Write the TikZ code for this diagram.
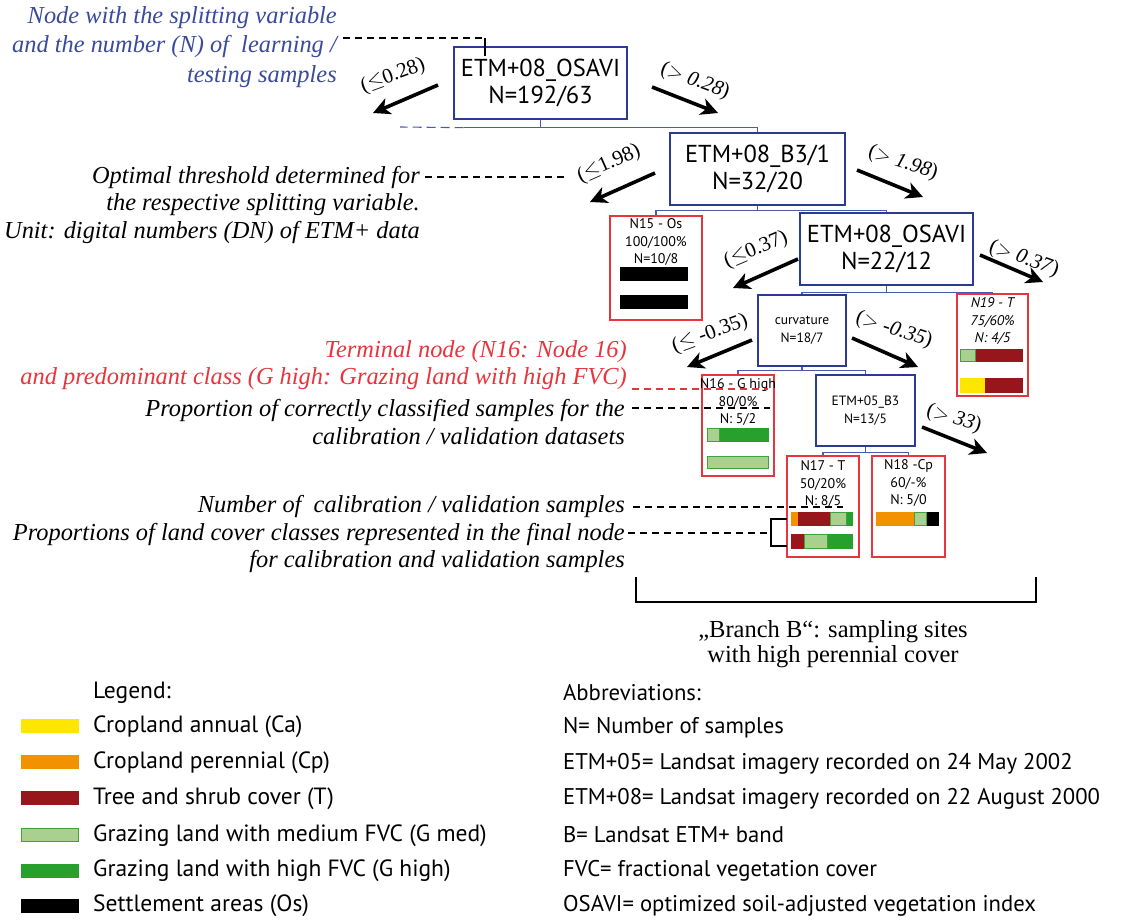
\documentclass[tikz,border=0pt]{standalone}
\usepackage{fontspec}
\setmainfont{Liberation Serif}
\setsansfont{PT Sans}
\usetikzlibrary{arrows.meta}
\definecolor{nodeblue}{HTML}{2B3A92}
\definecolor{lineblue}{HTML}{4A5BAE}
\definecolor{termred}{HTML}{E8343C}
\definecolor{noteblue}{HTML}{3A4A9C}
\definecolor{ca}{HTML}{FFE600}
\definecolor{cp}{HTML}{F39200}
\definecolor{tr}{HTML}{96161C}
\definecolor{gmed}{HTML}{A9D08E}
\definecolor{gmedb}{HTML}{3DA33D}
\definecolor{gh}{HTML}{27A02D}
\begin{document}
\begin{tikzpicture}[x=1pt,y=-1pt,
  split/.style={draw=nodeblue, line width=1.3pt, fill=white, align=center, inner sep=0pt,
    font=\sffamily\fontsize{24.5}{27}\selectfont},
  smallsplit/.style={split, font=\sffamily\fontsize{13.5}{18}\selectfont},
  leaf/.style={draw=termred, line width=1.3pt, inner sep=0pt},
  leaftext/.style={font=\sffamily\fontsize{14}{17.5}\selectfont, align=center, anchor=north, inner sep=0pt},
  tline/.style={draw=lineblue, line width=1.1pt},
  bigarrow/.style={line width=3.6pt, -{Stealth[length=17pt,width=17pt,inset=5pt]}},
  cond/.style={font=\fontsize{21}{21}\selectfont, inner sep=0pt},
  note/.style={font=\itshape\fontsize{24.4}{27}\selectfont, align=right, anchor=east, inner sep=0pt},
  guide/.style={dash pattern=on 7pt off 5pt, line width=1.2pt},
  swatch/.style={minimum width=58pt, minimum height=14pt, inner sep=0pt},
  legtext/.style={font=\sffamily\fontsize{23.5}{23.5}\selectfont, anchor=west, inner sep=0pt},
  abbtext/.style={font=\sffamily\fontsize{22.7}{22.7}\selectfont, anchor=west, inner sep=0pt}
]
\fill[white] (0,0) rectangle (1136,919);
\useasboundingbox (0,0) rectangle (1136,919);

% ---------- splitting nodes ----------
\node[split, minimum width=173pt, minimum height=72pt] (root) at (540.5,83) {ETM+08\_OSAVI\\N=192/63};
\node[split, minimum width=175pt, minimum height=72pt] (n2) at (757.5,169) {ETM+08\_B3/1\\N=32/20};
\node[split, minimum width=173pt, minimum height=72pt] (n3) at (886.5,249) {ETM+08\_OSAVI\\N=22/12};
\node[smallsplit, minimum width=88pt, minimum height=71pt] (curv) at (802,330.5) {curvature\\N=18/7};
\node[smallsplit, minimum width=99pt, minimum height=71pt] (b3) at (865.5,410.5) {ETM+05\_B3\\N=13/5};

% ---------- terminal nodes ----------
\node[leaf, minimum width=92pt, minimum height=104pt] (n15) at (656,268) {};
\node[leaf, minimum width=71pt, minimum height=102pt] (n19) at (992.5,345) {};
\node[leaf, minimum width=72pt, minimum height=101pt] (n16) at (738,425.5) {};
\node[leaf, minimum width=72pt, minimum height=101pt] (n17) at (823,506.5) {};
\node[leaf, minimum width=73pt, minimum height=101pt] (n18) at (908.5,506.5) {};

% node labels: the y axis points down, so a negative yshift moves them down
\node[leaftext] (t15) at ([yshift=-3pt]n15.north) {N15 - Os\\100/100\%\\N=10/8};
\node[leaftext, font=\sffamily\itshape\fontsize{14}{17.5}\selectfont] (t19) at ([yshift=-4pt]n19.north) {N19 - T\\75/60\%\\N: 4/5};
\node[leaftext] (t16) at ([yshift=-4pt]n16.north) {N16 - G high\\80/0\%\\N: 5/2};
\node[leaftext] (t17) at ([yshift=-5pt]n17.north) {N17 - T\\50/20\%\\N: 8/5};
\node[leaftext] (t18) at ([yshift=-4pt]n18.north) {N18 -Cp\\60/-\%\\N: 5/0};

% class proportion bars (calibration above, validation below)
% N15
\fill[black] (620,267) rectangle (688,281);
\fill[black] (620,295) rectangle (688,309);
% N19
\fill[tr] (975,349) rectangle (1023,362);
\filldraw[fill=gmed, draw=gmedb, line width=0.8pt] (960.5,349.5) rectangle (975,361.5);
\fill[ca] (960,378) rectangle (985,393);
\fill[tr] (985,378) rectangle (1023,393);
% N16
\fill[gh] (719,428) rectangle (769,442);
\filldraw[fill=gmed, draw=gmedb, line width=0.8pt] (707.5,428.5) rectangle (719,441.5);
\filldraw[fill=gmed, draw=gmedb, line width=0.8pt] (707.5,456.5) rectangle (768.5,468.5);
% N17
\fill[cp] (791,512) rectangle (798,526);
\fill[tr] (798,512) rectangle (830,526);
\filldraw[fill=gmed, draw=gmedb, line width=0.8pt] (830.5,512.5) rectangle (846.5,525.5);
\fill[gh] (847,512) rectangle (853,526);
\fill[tr] (791,534) rectangle (804,549);
\filldraw[fill=gmed, draw=gmedb, line width=0.8pt] (804.5,534.5) rectangle (827.5,548.5);
\fill[gh] (828,534) rectangle (853,549);
% N18
\fill[cp] (876,512) rectangle (914,526);
\filldraw[fill=gmed, draw=gmedb, line width=0.8pt] (914.5,512.5) rectangle (926.5,525.5);
\fill[black] (927,512) rectangle (939,526);

% ---------- tree connectors ----------
\draw[tline] (root.south) -- ++(0,8) coordinate (j1);
\draw[tline] (j1) -| (n2.north);
\draw[tline] (j1) -- ++(-77,0) coordinate (j1l);
\coordinate (stub) at (400,127);
\draw[tline, dash pattern=on 9pt off 5pt] (j1l) -- (stub);
\draw[tline] (n2.south) -- ++(0,5) coordinate (j2);
\draw[tline] (j2) -| (n15.north);
\draw[tline] (j2) -| (n3.north);
\draw[tline] (n3.south) -- ++(0,7) coordinate (j3);
\draw[tline] (j3) -| (curv.north);
\draw[tline] (j3) -| (n19.north);
\draw[tline] (curv.south) -- ++(0,4) coordinate (j4);
\draw[tline] (j4) -| (n16.north);
\draw[tline] (j4) -| (b3.north);
\draw[tline] (b3.south) -- ++(0,6) coordinate (j5);
\draw[tline] (j5) -| (n17.north);
\draw[tline] (j5) -| (n18.north);

% ---------- split direction arrows and thresholds ----------
\draw[bigarrow] (438,85) -- (373,113);
\draw[bigarrow] (652,87) -- (718,113);
\draw[bigarrow] (655,173) -- (590,202);
\draw[bigarrow] (857,170) -- (923,197);
\draw[bigarrow] (798,259) -- (733,288);
\draw[bigarrow] (980,255) -- (1043,282);
\draw[bigarrow] (752,340) -- (687,367);
\draw[bigarrow] (852,338) -- (918,367);
\draw[bigarrow] (922,427) -- (987,453);

\node[cond, rotate=20] (c1) at (393,76) {($\leq$0.28)};
\node[cond, rotate=-20] (c2) at (695,81) {($>$ \textit{0.28})};
\node[cond, rotate=24] (c3) at (609,164) {($\leq$1.98)};
\node[cond, rotate=-18] (c4) at (903,163) {($>$ \textit{1.98})};
\node[cond, rotate=23] (c5) at (756,250) {($\leq$0.37)};
\node[cond, rotate=-20] (c6) at (1024,259) {($>$ \textit{0.37})};
\node[cond, rotate=20] (c7) at (710,334) {($\leq$ -0.35)};
\node[cond, rotate=-18] (c8) at (894,330) {($>$ \textit{-0.35})};
\node[cond, rotate=-17] (c9) at (954,419) {($>$ \textit{33})};

% ---------- explanatory notes ----------
\node[note, text=noteblue, font=\itshape\fontsize{24.4}{29.5}\selectfont] (nsplit) at (337,47)
  {Node with the splitting variable\\and the number (N) of \ learning /\\testing samples};
\coordinate (rootpin) at (485,56);
\draw[guide] (343,38) -- (485,38);
\draw[line width=1.2pt] (485,38) -- (rootpin);

\node[note, font=\itshape\fontsize{24.4}{27.5}\selectfont] (nthr) at (420,205)
  {Optimal threshold determined for\\the respective splitting variable.\\Unit: digital numbers (DN) of ETM+ data};
\draw[guide] (425,177) -- (565,177);

\node[note, text=termred, font=\itshape\fontsize{24.4}{26.5}\selectfont] (nterm) at (627,365)
  {Terminal node (N16: Node 16)\\and predominant class (G high: Grazing land with high FVC)};
\draw[guide, termred] (632,389) -- (768,389);

\node[note, font=\itshape\fontsize{24.4}{28}\selectfont] (nprop) at (625,422)
  {Proportion of correctly classified samples for the\\calibration / validation datasets};
\draw[guide] (632,408) -- (770,408);

\node[note] (nnum) at (625,506) {Number of \ calibration / validation samples};
\draw[guide] (633,507) -- (843,507);

\node[note, font=\itshape\fontsize{24.4}{27}\selectfont] (nclass) at (625,547.5)
  {Proportions of land cover classes represented in the final node\\for calibration and validation samples};
\draw[guide] (628,533) -- (767,533);
\draw[line width=1.3pt] (787,519) -- (771,519) -- (771,546) -- (787,546);

% ---------- branch B ----------
\draw[line width=1.3pt] (636,577) -- (636,602) -- (1036,602) -- (1036,577);
\node[font=\fontsize{24.5}{25}\selectfont, align=center, inner sep=0pt] (branch) at (833,644)
  {„Branch B“: sampling sites\\with high perennial cover};

% ---------- legend ----------
\node[legtext] (leg) at (93,693) {Legend:};
\node[swatch, fill=ca] (s1) at (49.5,726) {};
\node[swatch, fill=cp] (s2) at (49.5,762) {};
\node[swatch, fill=tr] (s3) at (49.5,797.5) {};
\node[swatch, fill=gmed, draw=gmedb, line width=1pt, minimum width=57pt, minimum height=13pt] (s4) at (49.5,835) {};
\node[swatch, fill=gh] (s5) at (49.5,870.5) {};
\node[swatch, fill=black] (s6) at (49.5,905.5) {};
\node[legtext] (l1) at (93,727) {Cropland annual (Ca)};
\node[legtext] (l2) at (93,763) {Cropland perennial (Cp)};
\node[legtext] (l3) at (93,798.5) {Tree and shrub cover (T)};
\node[legtext] (l4) at (93,835.5) {Grazing land with medium FVC (G med)};
\node[legtext] (l5) at (93,871) {Grazing land with high FVC (G high)};
\node[legtext] (l6) at (93,906) {Settlement areas (Os)};

% ---------- abbreviations ----------
\node[abbtext] (abb) at (563,693) {Abbreviations:};
\node[abbtext] (a1) at (563,727.5) {N= Number of samples};
\node[abbtext] (a2) at (563,763.5) {ETM+05= Landsat imagery recorded on 24 May 2002};
\node[abbtext] (a3) at (563,799) {ETM+08= Landsat imagery recorded on 22 August 2000};
\node[abbtext] (a4) at (563,835) {B= Landsat ETM+ band};
\node[abbtext] (a5) at (563,870.5) {FVC= fractional vegetation cover};
\node[abbtext] (a6) at (563,906) {OSAVI= optimized soil-adjusted vegetation index};
\end{tikzpicture}
\end{document}
